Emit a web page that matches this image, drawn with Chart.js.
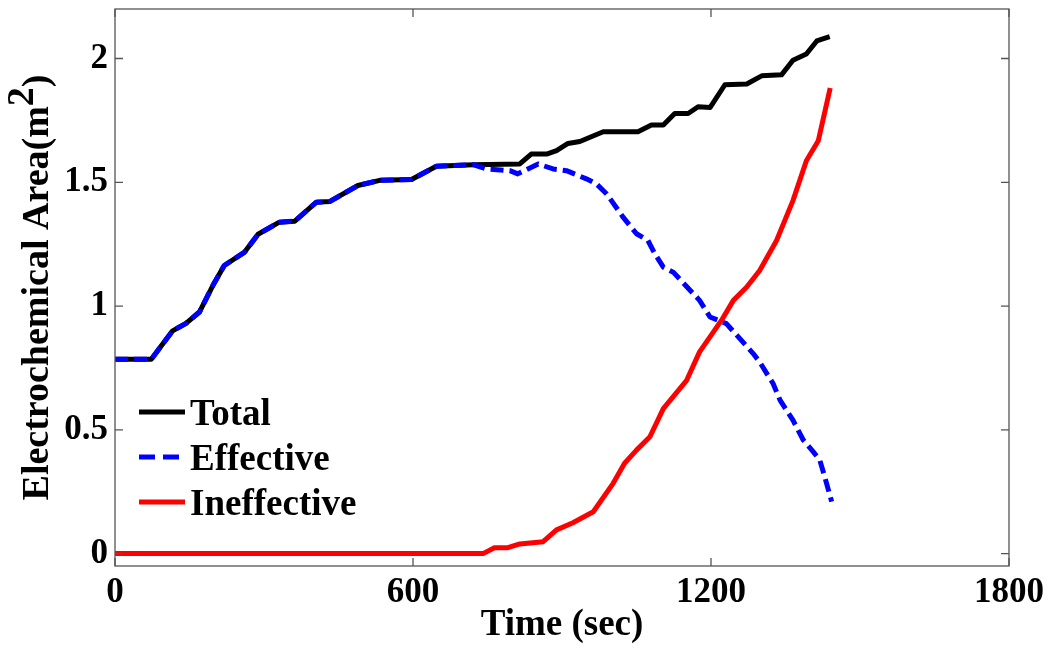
<!DOCTYPE html>
<html>
<head>
<meta charset="utf-8">
<script src="https://cdn.jsdelivr.net/npm/chart.js@4"></script>
<style>
  html, body { margin: 0; padding: 0; background: #fff; }
  #wrap { width: 1050px; height: 648px; }
</style>
</head>
<body>
<div id="wrap"><canvas id="areaChart"></canvas></div>
<script>
// Data
const totalTime = [0, 73, 116, 143, 170, 197, 220, 261, 288, 331, 362, 405, 432, 489, 533, 597, 647, 721, 815, 838, 869, 889, 912, 936, 983, 1053, 1080, 1104, 1127, 1154, 1174, 1198, 1228, 1272, 1302, 1342, 1365, 1392, 1413, 1439];
const totalArea = [0.785, 0.785, 0.90, 0.93, 0.976, 1.083, 1.164, 1.218, 1.29, 1.339, 1.343, 1.419, 1.422, 1.487, 1.508, 1.511, 1.565, 1.571, 1.574, 1.614, 1.614, 1.628, 1.657, 1.665, 1.704, 1.704, 1.731, 1.731, 1.778, 1.778, 1.805, 1.802, 1.894, 1.897, 1.93, 1.934, 1.993, 2.018, 2.071, 2.088];

const effectiveTime = [0, 73, 116, 143, 170, 197, 220, 261, 288, 331, 362, 405, 432, 489, 533, 597, 647, 721, 748, 795, 811, 852, 882, 909, 949, 969, 990, 1023, 1050, 1073, 1087, 1104, 1124, 1177, 1198, 1231, 1285, 1298, 1325, 1339, 1365, 1386, 1406, 1419, 1429, 1443];
const effectiveArea = [0.785, 0.785, 0.90, 0.93, 0.976, 1.083, 1.164, 1.218, 1.29, 1.339, 1.343, 1.419, 1.422, 1.487, 1.508, 1.511, 1.565, 1.571, 1.554, 1.547, 1.534, 1.574, 1.554, 1.547, 1.514, 1.494, 1.453, 1.359, 1.292, 1.265, 1.211, 1.157, 1.137, 1.023, 0.956, 0.929, 0.808, 0.774, 0.687, 0.62, 0.539, 0.458, 0.411, 0.378, 0.31, 0.21];

const ineffectiveTime = [0, 741, 764, 791, 815, 862, 889, 922, 963, 1003, 1026, 1050, 1077, 1104, 1151, 1177, 1221, 1245, 1272, 1298, 1332, 1365, 1392, 1416, 1440];
const ineffectiveArea = [0, 0, 0.024, 0.024, 0.039, 0.048, 0.096, 0.125, 0.169, 0.284, 0.365, 0.418, 0.472, 0.586, 0.70, 0.815, 0.942, 1.023, 1.077, 1.144, 1.265, 1.426, 1.587, 1.668, 1.881];

const xTicks = [0, 600, 1200, 1800];
const yTicks = [0, 0.5, 1, 1.5, 2];

const seriesNames = ['Total', 'Effective', 'Ineffective'];

const FONT = "'Liberation Serif', 'Times New Roman', serif";

function toPoints(xs, ys) {
    return xs.map((x, i) => ({ x: x, y: ys[i] }));
}

// box around the plot with inward tick marks (MATLAB style)
const boxPlugin = {
    id: 'boxPlugin',
    afterDraw(chart) {
        const ctx = chart.ctx;
        const a = chart.chartArea;
        const xs = chart.scales.x;
        const ys = chart.scales.y;
        const len = 8;
        ctx.save();
        ctx.strokeStyle = '#555';
        ctx.lineWidth = 1.3;
        ctx.strokeRect(a.left, a.top, a.right - a.left, a.bottom - a.top);
        ctx.beginPath();
        xTicks.forEach(v => {
            const px = xs.getPixelForValue(v);
            ctx.moveTo(px, a.bottom); ctx.lineTo(px, a.bottom - len);
            ctx.moveTo(px, a.top); ctx.lineTo(px, a.top + len);
        });
        yTicks.forEach(v => {
            const py = ys.getPixelForValue(v);
            ctx.moveTo(a.left, py); ctx.lineTo(a.left + len, py);
            ctx.moveTo(a.right, py); ctx.lineTo(a.right - len, py);
        });
        ctx.stroke();
        ctx.restore();
    }
};

// legend inside the plot, lower left
const legendPlugin = {
    id: 'insideLegend',
    afterDraw(chart) {
        const ctx = chart.ctx;
        const x0 = 139, x1 = 185, tx = 190;
        const rows = [412, 457, 502];
        ctx.save();
        ctx.font = 'bold 37px ' + FONT;
        ctx.textBaseline = 'alphabetic';
        ctx.fillStyle = '#000';
        seriesNames.forEach((name, i) => {
            const ds = chart.data.datasets.find(d => d.label === name);
            ctx.beginPath();
            ctx.strokeStyle = ds.borderColor;
            ctx.lineWidth = ds.borderWidth;
            // the legend sample shows two longer dashes
            ctx.setLineDash(ds.borderDash ? [16, 8] : []);
            ctx.moveTo(x0, rows[i]);
            ctx.lineTo(x1, rows[i]);
            ctx.stroke();
            ctx.setLineDash([]);
            ctx.fillText(name, tx, rows[i] + 13);
        });
        ctx.restore();
    }
};

// y title with a real superscript
const yTitlePlugin = {
    id: 'yTitle',
    afterDraw(chart) {
        const ctx = chart.ctx;
        const a = chart.chartArea;
        const main = 'Electrochemical Area(m';
        const sup = '2';
        const tail = ')';
        ctx.save();
        ctx.font = 'bold 38px ' + FONT;
        const w1 = ctx.measureText(main).width;
        const w2 = ctx.measureText(sup).width;
        const w3 = ctx.measureText(tail).width;
        const total = w1 + w2 + w3;
        ctx.translate(48, (a.top + a.bottom) / 2);
        ctx.rotate(-Math.PI / 2);
        ctx.fillStyle = '#000';
        ctx.textBaseline = 'alphabetic';
        ctx.textAlign = 'left';
        let x = -total / 2;
        ctx.fillText(main, x, 0);
        x += w1;
        ctx.fillText(sup, x, -15);
        x += w2;
        ctx.fillText(tail, x, 0);
        ctx.restore();
    }
};

const ctx = document.getElementById('areaChart').getContext('2d');

new Chart(ctx, {
    type: 'scatter',
    data: {
        datasets: [
            {
                label: 'Total',
                data: toPoints(totalTime, totalArea),
                borderColor: '#000000',
                borderWidth: 5,
                order: 3
            },
            {
                label: 'Effective',
                data: toPoints(effectiveTime, effectiveArea),
                borderColor: '#0000ff',
                borderWidth: 5,
                borderDash: [13, 6],
                order: 2
            },
            {
                label: 'Ineffective',
                data: toPoints(ineffectiveTime, ineffectiveArea),
                borderColor: '#ff0000',
                borderWidth: 5,
                order: 1
            }
        ]
    },
    options: {
        responsive: true,
        maintainAspectRatio: false,
        animation: false,
        showLine: true,
        elements: {
            point: { radius: 0, hoverRadius: 0 },
            line: { tension: 0, borderCapStyle: 'butt', borderJoinStyle: 'round', fill: false }
        },
        layout: {
            padding: { top: 9, right: 41, bottom: 0, left: 0 }
        },
        plugins: {
            legend: { display: false },
            tooltip: { enabled: false }
        },
        scales: {
            x: {
                type: 'linear',
                min: 0,
                max: 1800,
                afterBuildTicks: s => { s.ticks = xTicks.map(v => ({ value: v })); },
                afterFit: s => { s.height = 82; s.paddingLeft = 0; s.paddingRight = 0; },
                grid: { display: false, drawTicks: false },
                border: { display: false },
                ticks: {
                    color: '#000',
                    padding: 6,
                    maxRotation: 0,
                    callback: v => String(v),
                    font: { family: FONT, size: 35, weight: 'bold' }
                },
                title: {
                    display: true,
                    text: 'Time (sec)',
                    color: '#000',
                    padding: { top: 0, bottom: 0 },
                    font: { family: FONT, size: 37, weight: 'bold' }
                }
            },
            y: {
                type: 'linear',
                min: -0.05,
                max: 2.2,
                afterBuildTicks: s => { s.ticks = yTicks.map(v => ({ value: v })); },
                afterFit: s => { s.width = 115; s.paddingTop = 0; s.paddingBottom = 0; },
                grid: { display: false, drawTicks: false },
                border: { display: false },
                ticks: {
                    color: '#000',
                    padding: 7,
                    callback: v => String(v),
                    font: { family: FONT, size: 35, weight: 'bold' }
                }
            }
        }
    },
    plugins: [boxPlugin, legendPlugin, yTitlePlugin]
});
</script>
</body>
</html>
